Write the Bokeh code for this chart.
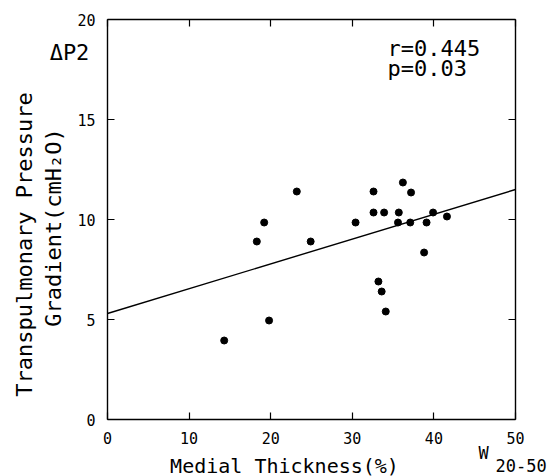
from bokeh.plotting import figure
from bokeh.models import Range1d, LinearAxis, FixedTicker, Label, ColumnDataSource
from bokeh.embed import file_html
from bokeh.resources import INLINE

# Data
thickness = [14.3, 18.3, 19.2, 19.8, 23.2, 24.9, 30.4, 32.6, 32.6, 33.9, 36.2,
             37.2, 35.7, 35.6, 37.1, 39.1, 39.9, 41.6, 38.8, 33.2, 33.6, 34.1]
gradient = [3.95, 8.9, 9.85, 4.95, 11.4, 8.9, 9.85, 11.4, 10.35, 10.35, 11.85,
            11.35, 10.35, 9.85, 9.85, 9.85, 10.35, 10.15, 8.35, 6.9, 6.4, 5.4]
fit_intercept = 5.3
fit_slope = 0.124
x_ticks = [0, 10, 20, 30, 40, 50]
y_ticks = [0, 5, 10, 15, 20]
stats_lines = ["r=0.445", "p=0.03"]

FONT = "DejaVu Sans Mono"

# canvas and plot-box geometry (pixels)
W, H = 552, 476
BOX_L, BOX_R, BOX_T, BOX_B = 107, 515, 19, 419
X0, X1 = x_ticks[0], x_ticks[-1]
Y0, Y1 = y_ticks[0], y_ticks[-1]
sx = (X1 - X0) / (BOX_R - BOX_L)
sy = (Y1 - Y0) / (BOX_B - BOX_T)
x_start, x_end = X0 - BOX_L * sx, X1 + (W - BOX_R) * sx
y_start, y_end = Y0 - (H - BOX_B) * sy, Y1 + BOX_T * sy

def dx(px):
    return x_start + px * (x_end - x_start) / W

def dy(py):
    return y_end - py * (y_end - y_start) / H

p = figure(width=W, height=H, x_range=Range1d(x_start, x_end), y_range=Range1d(y_start, y_end),
           output_backend="svg", toolbar_location=None,
           x_axis_location=None, y_axis_location=None,
           min_border=0, min_border_left=0, min_border_right=0,
           min_border_top=0, min_border_bottom=0)
p.background_fill_color = "white"
p.border_fill_color = "white"
p.outline_line_color = None
p.grid.visible = False


def make_axis(loc, bounds, ticks, labels):
    ax = LinearAxis(fixed_location=loc, bounds=bounds, ticker=FixedTicker(ticks=ticks))
    ax.major_tick_in = 7
    ax.major_tick_out = 0
    ax.minor_tick_line_color = None
    ax.axis_line_color = "black"
    ax.axis_line_width = 1.4
    ax.major_tick_line_color = "black"
    ax.major_tick_line_width = 1.2
    ax.major_label_text_font = FONT
    ax.major_label_text_font_size = "15px"
    ax.major_label_text_color = "black" if labels else None
    ax.major_label_standoff = 12
    return ax

p.add_layout(make_axis(Y0, (X0, X1), x_ticks, True), "below")
p.add_layout(make_axis(X0, (Y0, Y1), y_ticks, True), "left")
p.add_layout(make_axis(Y1, (X0, X1), x_ticks, False), "above")
p.add_layout(make_axis(X1, (Y0, Y1), y_ticks, False), "right")

src = ColumnDataSource(dict(x=thickness, y=gradient))
p.scatter("x", "y", source=src, size=7, color="black")

fx = [X0, X1]
fy = [fit_intercept + fit_slope * v for v in fx]
p.line(fx, fy, line_color="black", line_width=1.4)


def lab(text, px, py, size, align="center", angle=0):
    p.add_layout(Label(x=dx(px), y=dy(py), text=text, text_font=FONT, text_font_size=size,
                       text_align=align, text_baseline="middle", angle=angle,
                       angle_units="deg", text_color="black"))

lab(stats_lines[0], 387, 48, "22px", align="left")
lab(stats_lines[1], 387, 68, "22px", align="left")
lab("ΔP2", 69, 52, "22px")
lab("Medial Thickness(%)", 284, 465, "20px")
lab("W", 483, 452, "17px")
lab("20-50", 495, 465, "17px", align="left")
lab("Transpulmonary Pressure", 24, 244, "22px", angle=90)
lab("Gradient(cmH₂O)", 53, 227, "22px", angle=90)

open("out.html", "w").write(file_html(p, INLINE))
